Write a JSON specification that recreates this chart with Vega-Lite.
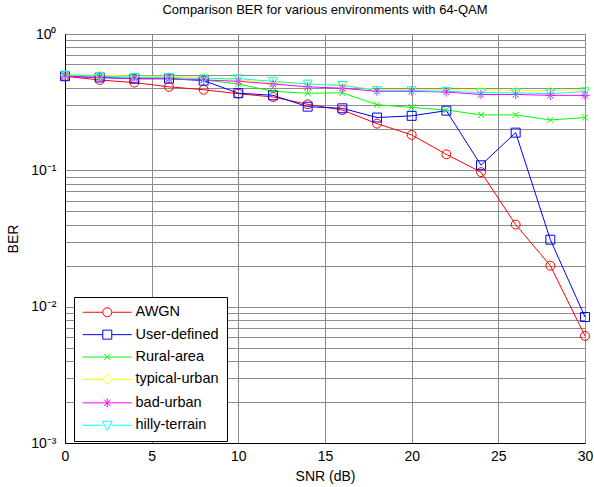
{
  "$schema": "https://vega.github.io/schema/vega-lite/v6.json",
  "width": 520,
  "height": 409,
  "autosize": "none",
  "padding": {"left": 65, "top": 34, "right": 9, "bottom": 44},
  "background": "white",
  "title": {"text": "Comparison BER for various environments with 64-QAM", "fontSize": 13, "fontWeight": "normal", "font": "Liberation Sans", "color": "black", "offset": 10, "anchor": "middle"},
  "config": {"font": "Liberation Sans", "view": {"stroke": "black", "strokeWidth": 1}},
  "data": {"values": [
    {"x":0,"s":"AWGN","ber":0.49},{"x":2,"s":"AWGN","ber":0.46},{"x":4,"s":"AWGN","ber":0.44},{"x":6,"s":"AWGN","ber":0.41},{"x":8,"s":"AWGN","ber":0.39},{"x":10,"s":"AWGN","ber":0.365},{"x":12,"s":"AWGN","ber":0.345},{"x":14,"s":"AWGN","ber":0.305},{"x":16,"s":"AWGN","ber":0.277},{"x":18,"s":"AWGN","ber":0.22},{"x":20,"s":"AWGN","ber":0.182},{"x":22,"s":"AWGN","ber":0.131},{"x":24,"s":"AWGN","ber":0.097},{"x":26,"s":"AWGN","ber":0.040},{"x":28,"s":"AWGN","ber":0.020},{"x":30,"s":"AWGN","ber":0.0061},
    {"x":0,"s":"User-defined","ber":0.49},{"x":2,"s":"User-defined","ber":0.48},{"x":4,"s":"User-defined","ber":0.47},{"x":6,"s":"User-defined","ber":0.47},{"x":8,"s":"User-defined","ber":0.455},{"x":10,"s":"User-defined","ber":0.368},{"x":12,"s":"User-defined","ber":0.355},{"x":14,"s":"User-defined","ber":0.293},{"x":16,"s":"User-defined","ber":0.285},{"x":18,"s":"User-defined","ber":0.244},{"x":20,"s":"User-defined","ber":0.251},{"x":22,"s":"User-defined","ber":0.274},{"x":24,"s":"User-defined","ber":0.109},{"x":26,"s":"User-defined","ber":0.189},{"x":28,"s":"User-defined","ber":0.031},{"x":30,"s":"User-defined","ber":0.0084},
    {"x":0,"s":"Rural-area","ber":0.50},{"x":2,"s":"Rural-area","ber":0.49},{"x":4,"s":"Rural-area","ber":0.48},{"x":6,"s":"Rural-area","ber":0.47},{"x":8,"s":"Rural-area","ber":0.46},{"x":10,"s":"Rural-area","ber":0.43},{"x":12,"s":"Rural-area","ber":0.38},{"x":14,"s":"Rural-area","ber":0.368},{"x":16,"s":"Rural-area","ber":0.37},{"x":18,"s":"Rural-area","ber":0.303},{"x":20,"s":"Rural-area","ber":0.289},{"x":22,"s":"Rural-area","ber":0.277},{"x":24,"s":"Rural-area","ber":0.255},{"x":26,"s":"Rural-area","ber":0.255},{"x":28,"s":"Rural-area","ber":0.234},{"x":30,"s":"Rural-area","ber":0.244},
    {"x":0,"s":"typical-urban","ber":0.50},{"x":2,"s":"typical-urban","ber":0.50},{"x":4,"s":"typical-urban","ber":0.49},{"x":6,"s":"typical-urban","ber":0.49},{"x":8,"s":"typical-urban","ber":0.48},{"x":10,"s":"typical-urban","ber":0.46},{"x":12,"s":"typical-urban","ber":0.44},{"x":14,"s":"typical-urban","ber":0.43},{"x":16,"s":"typical-urban","ber":0.42},{"x":18,"s":"typical-urban","ber":0.39},{"x":20,"s":"typical-urban","ber":0.39},{"x":22,"s":"typical-urban","ber":0.39},{"x":24,"s":"typical-urban","ber":0.39},{"x":26,"s":"typical-urban","ber":0.385},{"x":28,"s":"typical-urban","ber":0.385},{"x":30,"s":"typical-urban","ber":0.39},
    {"x":0,"s":"bad-urban","ber":0.49},{"x":2,"s":"bad-urban","ber":0.48},{"x":4,"s":"bad-urban","ber":0.47},{"x":6,"s":"bad-urban","ber":0.47},{"x":8,"s":"bad-urban","ber":0.46},{"x":10,"s":"bad-urban","ber":0.45},{"x":12,"s":"bad-urban","ber":0.43},{"x":14,"s":"bad-urban","ber":0.41},{"x":16,"s":"bad-urban","ber":0.40},{"x":18,"s":"bad-urban","ber":0.38},{"x":20,"s":"bad-urban","ber":0.38},{"x":22,"s":"bad-urban","ber":0.375},{"x":24,"s":"bad-urban","ber":0.36},{"x":26,"s":"bad-urban","ber":0.36},{"x":28,"s":"bad-urban","ber":0.355},{"x":30,"s":"bad-urban","ber":0.355},
    {"x":0,"s":"hilly-terrain","ber":0.50},{"x":2,"s":"hilly-terrain","ber":0.49},{"x":4,"s":"hilly-terrain","ber":0.48},{"x":6,"s":"hilly-terrain","ber":0.48},{"x":8,"s":"hilly-terrain","ber":0.47},{"x":10,"s":"hilly-terrain","ber":0.47},{"x":12,"s":"hilly-terrain","ber":0.45},{"x":14,"s":"hilly-terrain","ber":0.43},{"x":16,"s":"hilly-terrain","ber":0.42},{"x":18,"s":"hilly-terrain","ber":0.385},{"x":20,"s":"hilly-terrain","ber":0.385},{"x":22,"s":"hilly-terrain","ber":0.38},{"x":24,"s":"hilly-terrain","ber":0.372},{"x":26,"s":"hilly-terrain","ber":0.37},{"x":28,"s":"hilly-terrain","ber":0.365},{"x":30,"s":"hilly-terrain","ber":0.378}
  ]},
  "encoding": {
    "x": {"field": "x", "type": "quantitative", "title": "SNR (dB)",
      "scale": {"domain": [0, 30], "nice": false, "zero": false},
      "axis": {"values": [0, 5, 10, 15, 20, 25, 30], "grid": true, "gridColor": "#8c8c8c", "gridOpacity": 1, "ticks": false, "domainColor": "black", "labelFontSize": 14, "labelColor": "black", "labelPadding": 6, "titleFontSize": 14, "titleFontWeight": "normal", "titleColor": "black", "titlePadding": 6, "labelFlush": false}},
    "y": {"field": "ber", "type": "quantitative", "title": "BER",
      "scale": {"type": "log", "domain": [0.001, 1], "nice": false},
      "axis": {"values": [0.001,0.002,0.003,0.004,0.005,0.006,0.007,0.008,0.009,0.01,0.02,0.03,0.04,0.05,0.06,0.07,0.08,0.09,0.1,0.2,0.3,0.4,0.5,0.6,0.7,0.8,0.9,1],
        "labelExpr": "datum.value == 1 ? '10⁰' : datum.value == 0.1 ? '10⁻¹' : datum.value == 0.01 ? '10⁻²' : datum.value == 0.001 ? '10⁻³' : ''",
        "grid": true, "gridColor": "#8c8c8c", "gridOpacity": 1, "ticks": false, "domainColor": "black", "labelFontSize": 14, "labelColor": "black", "labelPadding": 9, "labelFlush": false, "labelOverlap": false, "titleFontSize": 14, "titleFontWeight": "normal", "titleColor": "black", "titlePadding": 10}}
  },
  "layer": [
    {"mark": {"type": "line", "strokeWidth": 1},
     "encoding": {"color": {"field": "s", "type": "nominal", "scale": {"domain": ["AWGN","User-defined","Rural-area","typical-urban","bad-urban","hilly-terrain"], "range": ["#ff0000","#0000ff","#00ff00","#ffff00","#ff00ff","#00ffff"]}, "legend": null}}},
    {"mark": {"type": "point", "filled": false, "size": 80, "strokeWidth": 1, "opacity": 1},
     "encoding": {
       "color": {"field": "s", "type": "nominal", "legend": null, "scale": {"domain": ["AWGN","User-defined","Rural-area","typical-urban","bad-urban","hilly-terrain"], "range": ["#ff0000","#0000ff","#00ff00","#ffff00","#ff00ff","#00ffff"]}},
       "shape": {"field": "s", "type": "nominal", "legend": null, "scale": {"domain": ["AWGN","User-defined","Rural-area","typical-urban","bad-urban","hilly-terrain"], "range": ["circle","square","M-0.7,-0.7L0.7,0.7M-0.7,0.7L0.7,-0.7","diamond","M-1,0L1,0M0,-1L0,1M-0.7,-0.7L0.7,0.7M-0.7,0.7L0.7,-0.7","triangle-down"]}}}},
    {"transform": [{"filter": "datum.x > 100"}],
     "mark": {"type": "point", "filled": false, "strokeWidth": 1, "opacity": 1},
     "encoding": {
       "color": {"field": "s", "type": "nominal", "scale": {"domain": ["AWGN","User-defined","Rural-area","typical-urban","bad-urban","hilly-terrain"], "range": ["#ff0000","#0000ff","#00ff00","#ffff00","#ff00ff","#00ffff"]},
         "legend": {"title": null, "orient": "none", "legendX": 9, "legendY": 263, "symbolSize": 100, "symbolOffset": 18, "labelOffset": 21, "labelFontSize": 14.5, "labelColor": "black", "rowPadding": 7.4, "padding": 8, "strokeColor": "black", "fillColor": "white", "symbolStrokeWidth": 1, "labelLimit": 300}},
       "shape": {"field": "s", "type": "nominal",
         "scale": {"domain": ["AWGN","User-defined","Rural-area","typical-urban","bad-urban","hilly-terrain"], "range": [
           "M-4.9,0L-0.9,0M0.9,0L4.9,0M0.9,0A0.9,0.9,0,1,1,-0.9,0A0.9,0.9,0,1,1,0.9,0",
           "M-4.9,0L-0.9,0M0.9,0L4.9,0M-0.9,-0.9L0.9,-0.9L0.9,0.9L-0.9,0.9Z",
           "M-4.9,0L4.9,0M-0.6,-0.6L0.6,0.6M-0.6,0.6L0.6,-0.6",
           "M-4.9,0L-1,0M1,0L4.9,0M0,-1L1,0L0,1L-1,0Z",
           "M-4.9,0L4.9,0M0,-0.9L0,0.9M-0.65,-0.65L0.65,0.65M-0.65,0.65L0.65,-0.65",
           "M-4.9,0L-1,0M1,0L4.9,0M-1,-0.8L1,-0.8L0,1Z"]},
         "legend": {"title": null, "orient": "none", "legendX": 9, "legendY": 263, "symbolSize": 100, "symbolOffset": 18, "labelOffset": 21, "labelFontSize": 14.5, "labelColor": "black", "rowPadding": 7.4, "padding": 8, "strokeColor": "black", "fillColor": "white", "symbolStrokeWidth": 1, "symbolFillColor": "transparent", "labelLimit": 300}}}}
  ],
  "resolve": {"scale": {"shape": "independent", "color": "independent"}}
}
